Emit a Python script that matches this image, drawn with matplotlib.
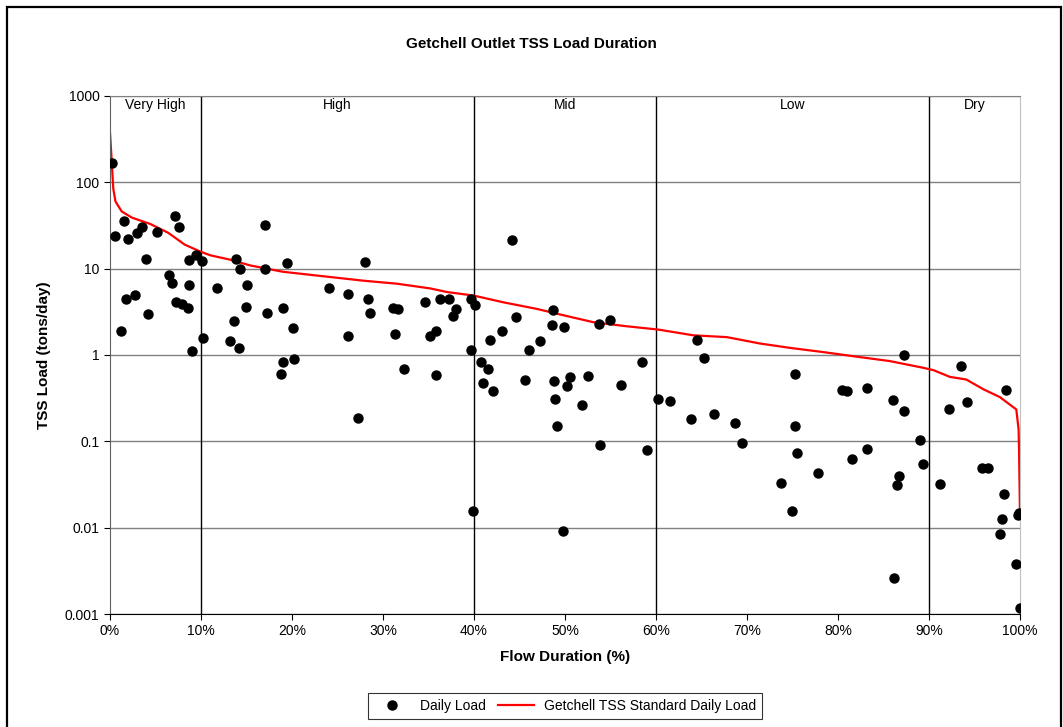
import matplotlib.pyplot as plt
import matplotlib.ticker as mticker
from matplotlib.patches import Rectangle

plt.rcParams['font.family'] = ['Liberation Sans', 'DejaVu Sans']

# observed daily TSS loads: flow duration (%) and load (tons/day)
obs_pct = [0.25, 0.6, 1.2, 1.54, 1.76, 2.0, 2.75, 3.0, 3.5, 4.0, 4.2, 5.2,
           6.5, 6.8, 7.1, 7.3, 7.6, 7.95, 8.6, 8.7, 8.7, 9.0, 9.5, 10.1, 10.25,
           11.8, 13.2, 13.65, 13.8, 14.2, 14.3, 14.9, 15.05, 17.0, 17.0, 17.3,
           18.75, 19.0, 19.0, 19.45, 20.1, 20.25, 24.1, 26.1, 26.2, 27.2, 28.0,
           28.4, 28.6, 31.1, 31.3, 31.7, 32.3, 34.6, 35.2, 35.8, 35.8, 36.3,
           37.2, 37.7, 38.0, 39.7, 39.7, 39.85, 40.1, 40.8, 41.0, 41.5, 41.8,
           42.05, 43.1, 44.2, 44.6, 45.6, 46.0, 47.2, 48.6, 48.7, 48.8, 48.9,
           49.1, 49.8, 49.85, 50.2, 50.5, 51.9, 52.5, 53.7, 53.8, 54.9, 56.2,
           58.5, 59.0, 60.2, 61.5, 63.8, 64.5, 65.3, 66.4, 68.7, 69.5, 73.7,
           74.9, 75.3, 75.3, 75.5, 77.8, 80.4, 81.0, 81.5, 83.2, 83.2, 86.0,
           86.2, 86.5, 86.7, 87.25, 87.25, 89.0, 89.3, 91.2, 92.2, 93.55, 94.2,
           95.8, 96.5, 97.8, 98.0, 98.2, 98.5, 99.6, 99.75, 99.9, 99.97]
obs_load = [169, 23.6, 1.9, 36, 4.5, 21.8, 4.9, 25.6, 30, 12.8, 3.0, 26.5,
            8.5, 6.8, 41, 4.1, 30, 3.9, 3.5, 12.5, 6.4, 1.12, 14.3, 12.3, 1.56,
            5.9, 1.45, 2.5, 12.9, 1.21, 10, 3.6, 6.5, 32, 10, 3.1,
            0.6, 3.5, 0.82, 11.7, 2.06, 0.91, 6.0, 5.1, 1.65, 0.186, 12.0,
            4.5, 3.1, 3.5, 1.73, 3.4, 0.68, 4.1, 1.67, 1.92, 0.58, 4.4,
            4.4, 2.84, 3.45, 4.4, 1.13, 0.0155, 3.8, 0.84, 0.48, 0.69, 1.48,
            0.386, 1.88, 21.3, 2.77, 0.51, 1.14, 1.47, 2.2, 3.36, 0.5, 0.31,
            0.152, 0.0091, 2.1, 0.44, 0.56, 0.263, 0.575, 2.31, 0.0906, 2.53, 0.448,
            0.82, 0.079, 0.306, 0.29, 0.18, 1.5, 0.935, 0.207, 0.161, 0.0966, 0.0327,
            0.0156, 0.61, 0.152, 0.074, 0.0427, 0.396, 0.386, 0.0624, 0.41, 0.082, 0.303,
            0.00263, 0.031, 0.04, 1.0, 0.222, 0.103, 0.0547, 0.0318, 0.239, 0.75, 0.282,
            0.0487, 0.0487, 0.0084, 0.01245, 0.0246, 0.39, 0.0038, 0.0142, 0.0146, 0.00117]

# load duration curve for the TSS standard
std_pct = [0.0, 0.1, 0.36, 0.6, 1.28, 2.4, 4.4, 6.4, 8.2, 9.9, 11.0, 13.2,
           15.4, 19.0, 24.2, 27.8, 31.5, 35.2, 37.0, 40.0, 43.2, 46.9, 49.5,
           53.1, 56.8, 60.25, 64.1, 67.8, 71.4, 74.7, 78.4, 82.1, 85.7, 89.4,
           90.5, 92.3, 94.1, 96.0, 97.8, 99.6, 99.85, 99.9, 100.0]
std_load = [370, 250, 84, 60, 46, 39, 33, 26, 19, 15.8, 14.3, 12.7,
            10.9, 9.2, 8.0, 7.26, 6.7, 5.9, 5.37, 4.87, 4.08, 3.42, 2.94,
            2.4, 2.15, 1.97, 1.69, 1.61, 1.36, 1.21, 1.08, 0.955, 0.85, 0.71,
            0.667, 0.558, 0.52, 0.40, 0.325, 0.234, 0.138, 0.081, 0.015]

zone_edges = [10, 40, 60, 90]
zone_names = ['Very High', 'High', 'Mid', 'Low', 'Dry']
zone_mid = [5, 25, 50, 75, 95]

fig = plt.figure(figsize=(10.63, 7.27), dpi=100)
ax = fig.add_axes([0.1035, 0.1554, 0.856, 0.7126])

ax.set_yscale('log')
ax.set_xlim(0, 100)
ax.set_ylim(0.001, 1000)

for e in zone_edges:
    ax.axvline(e, color='black', lw=1, zorder=1)
for name, m in zip(zone_names, zone_mid):
    ax.text(m, 780, name, ha='center', va='center', fontsize=10)

ax.grid(axis='y', which='major', color='#808080', lw=1)
ax.set_axisbelow(True)

ax.plot(obs_pct, obs_load, 'o', color='black', ms=6.5, label='Daily Load', zorder=3)
ax.plot(std_pct, std_load, '-', color='red', lw=1.6,
        label='Getchell TSS Standard Daily Load', zorder=2)

ax.xaxis.set_major_locator(mticker.MultipleLocator(10))
ax.xaxis.set_major_formatter(mticker.FuncFormatter(lambda v, p: f'{v:.0f}%'))
ax.yaxis.set_major_locator(mticker.LogLocator(base=10, numticks=10))
ax.yaxis.set_minor_locator(mticker.NullLocator())
ax.yaxis.set_major_formatter(mticker.FuncFormatter(lambda v, p: f'{v:g}'))
ax.tick_params(labelsize=10, direction='out', length=4, color='black')

ax.spines['top'].set_color('#808080')
ax.spines['left'].set_color('#606060')
ax.spines['right'].set_color('#c0c0c0')
ax.spines['bottom'].set_color('black')

ax.set_xlabel('Flow Duration (%)', fontsize=11, fontweight='bold', labelpad=8)
ax.set_ylabel('TSS Load (tons/day)', fontsize=11, fontweight='bold', labelpad=10)
fig.text(0.5, 0.939, 'Getchell Outlet TSS Load Duration', ha='center', va='center',
         fontsize=11, fontweight='bold')

leg = ax.legend(loc='upper center', bbox_to_anchor=(0.5, -0.152), ncol=2,
                frameon=True, fancybox=False, edgecolor='black', fontsize=10,
                handlelength=2.6, columnspacing=0.9, handletextpad=0.7,
                borderpad=0.45, borderaxespad=0)
leg.get_frame().set_linewidth(0.8)

# frame round the whole chart, running off the bottom edge
fig.patches.append(Rectangle((0.0066, -0.02), 0.9914, 1.0104, transform=fig.transFigure,
                             fill=False, edgecolor='black', lw=1.6))

fig.savefig('out.png', dpi=100)
